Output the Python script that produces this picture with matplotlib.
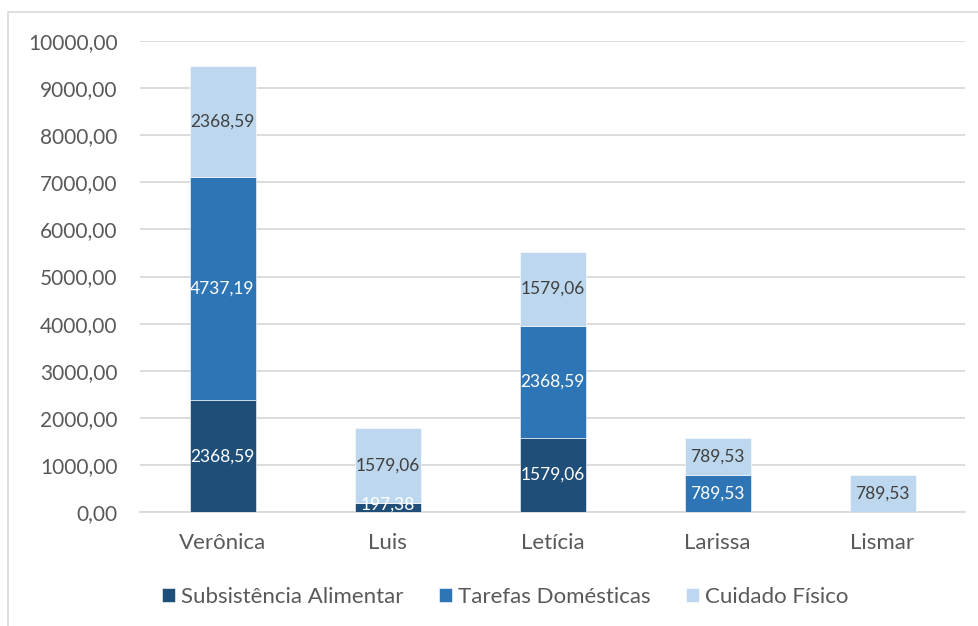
import matplotlib.pyplot as plt
import numpy as np
from matplotlib.patches import Rectangle

names = ['Verônica', 'Luis', 'Letícia', 'Larissa', 'Lismar']
subsistencia = [2368.59, 197.38, 1579.06, 0, 0]
tarefas = [4737.19, 0, 2368.59, 789.53, 0]
cuidado = [2368.59, 1579.06, 1579.06, 789.53, 789.53]
series_names = ['Subsistência Alimentar', 'Tarefas Domésticas', 'Cuidado Físico']
colors = ['#1F4E79', '#2E75B6', '#BDD7EE']
label_colors = ['white', 'white', '#404040']

plt.rcParams['font.family'] = ['Lato', 'DejaVu Sans']

def fmt(v):
    return f'{v:.2f}'.replace('.', ',')

fig = plt.figure(figsize=(9.79, 6.26), dpi=100)
ax = fig.add_axes([140/979, 1 - 512/626, 825/979, 471/626])

# light frame around the chart area
fig.patches.append(Rectangle((8/979, -0.1), 1.2, 1 - 12/626 + 0.1, transform=fig.transFigure,
                             fill=False, edgecolor='#D9D9D9', linewidth=1.2))

x = np.arange(len(names))
bottom = np.zeros(len(names))
for vals, name, col, lc in zip([subsistencia, tarefas, cuidado], series_names, colors, label_colors):
    vals = np.array(vals)
    ax.bar(x, vals, 0.4, bottom=bottom, color=col, label=name, edgecolor='white', linewidth=0.4, zorder=3)
    for xi, v, b in zip(x, vals, bottom):
        if v > 0:
            yc = b + v / 2 if v > 400 else b + v / 2 + 60
            ax.text(xi, yc, fmt(v), ha='center', va='center', color=lc, fontsize=12.5, zorder=4)
    bottom += vals

ax.set_xlim(-0.5, 4.5)
ax.set_ylim(0, 10000)
ax.set_yticks(np.arange(0, 10001, 1000))
ax.set_yticklabels([fmt(v) for v in np.arange(0, 10001, 1000)])
ax.set_xticks(x)
ax.set_xticklabels(names)
ax.yaxis.grid(True, color='#D9D9D9', linewidth=1.3, zorder=0)
for s in ['top', 'right', 'left']:
    ax.spines[s].set_visible(False)
ax.spines['bottom'].set_color('#D9D9D9')
ax.spines['bottom'].set_linewidth(1.3)
ax.tick_params(axis='both', length=0, colors='#595959')
ax.tick_params(axis='y', labelsize=15, pad=16)
ax.tick_params(axis='x', labelsize=16, pad=15)

ax.legend(loc='center', bbox_to_anchor=(505/979, 1 - 597/626), bbox_transform=fig.transFigure,
          ncol=3, frameon=False, fontsize=16, handlelength=0.6, handleheight=0.6,
          handletextpad=0.25, columnspacing=1.6, labelcolor='#595959')

fig.savefig('out.png', dpi=100)
